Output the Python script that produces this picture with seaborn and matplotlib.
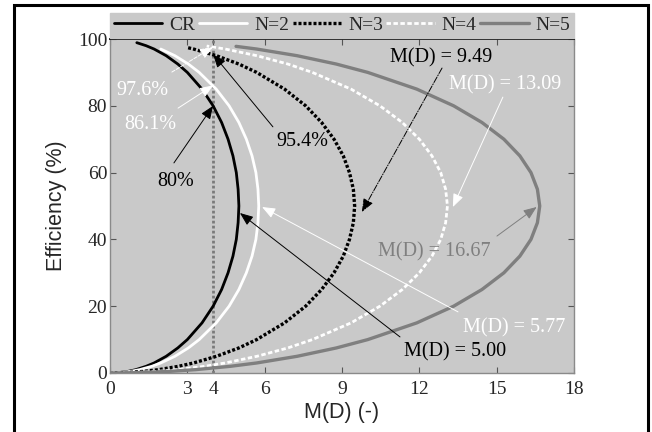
import numpy as np
import pandas as pd
import seaborn as sns
import matplotlib.pyplot as plt
from matplotlib.patches import Rectangle

# efficiency grid (%) shared by all curves, lower branch + upper branch
eff = [0, 0.1, 0.5, 1, 2, 3, 5, 7.5, 10, 15, 20, 25, 30, 35, 40, 45, 50,
       55, 60, 65, 70, 75, 80, 85, 90, 92.5, 95]

# M(D) at the efficiencies above
m_cr = [0, 0.32, 0.71, 1.00, 1.40, 1.71, 2.18, 2.63, 3.00, 3.57, 4.00, 4.33, 4.58, 4.77, 4.90, 4.97, 5.00,
        4.97, 4.90, 4.77, 4.58, 4.33, 4.00, 3.57, 3.00, 2.63, 2.18]
m_n2 = [0, 0.37, 0.81, 1.15, 1.62, 1.97, 2.52, 3.04, 3.46, 4.12, 4.62, 5.00, 5.29, 5.51, 5.66, 5.74, 5.77,
        5.74, 5.66, 5.51, 5.29, 5.00, 4.62, 4.12, 3.46, 3.04, 2.52]
m_n3 = [0, 0.60, 1.34, 1.89, 2.66, 3.24, 4.13, 5.00, 5.69, 6.77, 7.59, 8.21, 8.69, 9.05, 9.29, 9.44, 9.49,
        9.44, 9.29, 9.05, 8.69, 8.21, 7.59, 6.77, 5.69, 5.00, 4.13]
m_n4 = [0, 0.83, 1.85, 2.60, 3.67, 4.47, 5.70, 6.90, 7.85, 9.35, 10.47, 11.34, 12.00, 12.49, 12.83, 13.02, 13.09,
        13.02, 12.83, 12.49, 12.00, 11.34, 10.47, 9.35, 7.85, 6.90, 5.70]
m_n5 = [0, 1.05, 2.35, 3.32, 4.67, 5.69, 7.26, 8.78, 10.00, 11.90, 13.33, 14.43, 15.28, 15.90, 16.33, 16.58, 16.67,
        16.58, 16.33, 15.90, 15.28, 14.43, 13.33, 11.90, 10.00, 8.78, 7.26]

# upper tail of each curve (efficiency %, M(D))
tail_cr = ([97, 98, 98.9], [1.71, 1.40, 1.04])
tail_n2 = ([97], [1.97])
tail_n3 = ([97, 97.4], [3.24, 3.02])
tail_n4 = ([97, 97.9], [4.47, 3.75])
tail_n5 = ([97, 97.8], [5.69, 4.89])

labels = ["CR", "N=2", "N=3", "N=4", "N=5"]
xticks = [0, 3, 4, 6, 9, 12, 15, 18]
yticks = [0, 20, 40, 60, 80, 100]

bg = "#c9c9c9"
serif = "Liberation Serif"
sans = "Liberation Sans"

sns.set_style("ticks")
plt.rcParams["font.family"] = serif

fig = plt.figure(figsize=(6.52, 4.32), dpi=100)
ax = fig.add_axes([0.1687, 0.1366, 0.7117, 0.7731])
ax.set_facecolor(bg)

# outer frame
fig.patches.append(Rectangle((0.021, -0.02), 0.973, 1.008, transform=fig.transFigure,
                             fill=False, edgecolor="black", lw=2.2))

ax.axvline(4, color="#7a7a7a", ls=(0, (1, 0.8)), lw=2, zorder=1)

curves = [(m_cr, tail_cr, "black", "-", 2.0),
          (m_n2, tail_n2, "white", "-", 2.0),
          (m_n3, tail_n3, "black", (0, (0.9, 0.6)), 2.4),
          (m_n4, tail_n4, "white", (0, (1.6, 0.9)), 2.0),
          (m_n5, tail_n5, "#7f7f7f", "-", 2.4)]

for (m, tail, col, ls, lw), lab in zip(curves, labels):
    d = pd.DataFrame({"M": m + tail[1], "eff": eff + tail[0]})
    sns.lineplot(data=d, x="M", y="eff", sort=False, estimator=None, color=col,
                 linestyle=ls, lw=lw, label=lab, ax=ax, zorder=3)

ax.set_xlim(0, 18)
ax.set_ylim(0, 100)
ax.set_xticks(xticks)
ax.set_yticks(yticks)
ax.tick_params(direction="in", top=True, right=True, labeltop=False, labelright=False,
               length=4, width=0.8, color="#555555", labelsize=14)
ax.tick_params(axis="x", pad=6)
ax.tick_params(axis="y", pad=2)
for s in ["bottom", "left", "right"]:
    ax.spines[s].set_color("#8a8a8a")
    ax.spines[s].set_linewidth(1)
ax.spines["top"].set_color("black")
ax.spines["top"].set_linewidth(1.3)

ax.set_xlabel("M(D) (-)", fontsize=15.5, family=sans, labelpad=3)
ax.set_ylabel("Efficiency (%)", fontsize=15.5, family=sans, labelpad=8)

leg = ax.legend(loc="lower left", bbox_to_anchor=(0, 1.003, 1, 0.087), mode="expand",
                ncol=5, borderaxespad=0, frameon=True, fancybox=False, facecolor=bg,
                edgecolor=bg, framealpha=1, fontsize=14, handlelength=2.5,
                handletextpad=0.35, columnspacing=0.7, borderpad=0.2)

# annotations: (text, text x, text y, arrow tail, arrow head, colour, arrow style)
notes = [
    ("97.6%", 1.24, 84.7, (2.40, 90.1), (4.0, 97.6), "white", "--"),
    ("86.1%", 1.55, 74.3, (2.64, 79.3), (4.0, 86.1), "white", "-"),
    ("80%", 2.56, 57.2, (2.48, 62.9), (4.0, 80.0), "black", "-"),
    ("95.4%", 7.45, 69.2, (6.32, 73.7), (4.0, 95.4), "black", "-"),
    ("M(D) = 9.49", 12.84, 94.3, (12.88, 91.3), (9.77, 48.2), "black", "-."),
    ("M(D) = 13.09", 15.32, 86.2, (15.24, 82.6), (13.3, 49.7), "white", "-"),
    ("M(D) = 16.67", 12.57, 36.2, (15.01, 41.0), (16.55, 49.7), "#7f7f7f", "-"),
    ("M(D) = 5.77", 15.67, 13.5, (13.5, 18.3), (5.90, 49.7), "white", "-"),
    ("M(D) = 5.00", 13.38, 6.3, (11.25, 10.8), (5.04, 47.9), "black", "-"),
]
for txt, tx, ty, tail, head, col, als in notes:
    ax.text(tx, ty, txt, color=col, fontsize=14.5, ha="center", va="center", zorder=5)
    ax.annotate("", xy=head, xytext=tail, zorder=4,
                arrowprops=dict(arrowstyle="-|>,head_length=0.5,head_width=0.2", color=col,
                                lw=0.7, ls=als, mutation_scale=16, shrinkA=0, shrinkB=0))

fig.savefig("out.png", dpi=100)
